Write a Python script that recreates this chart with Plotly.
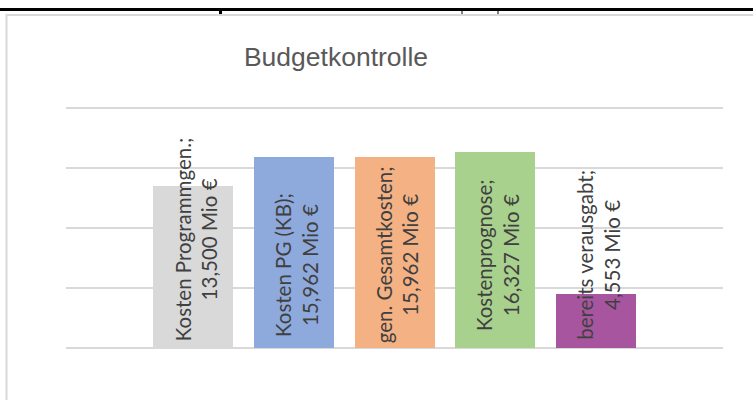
import plotly.graph_objects as go

# ---- data ----
categories = ["Kosten Programmgen.", "Kosten PG (KB)", "gen. Gesamtkosten", "Kostenprognose", "bereits verausgabt"]
values = [13.500, 15.962, 15.962, 16.327, 4.553]
value_labels = ["13,500 Mio €", "15,962 Mio €", "15,962 Mio €", "16,327 Mio €", "4,553 Mio €"]
label_names = ["Kosten Programmgen.;", "Kosten PG (KB);", "gen. Gesamtkosten;", "Kostenprognose;", "bereits verausgabt;"]
colors = ["#D9D9D9", "#8EA9DB", "#F4B183", "#A9D18E", "#A855A0"]
# label centre offset above the base (pixels)
label_offsets = [109, 83, 93.5, 93.5, 93.5]

W, H = 753, 400
L, R, T, B = 66, 30, 102, 46
PW, PH = W - L - R, H - T - B

def px_x(px):
    return (px - L) / PW

def px_y(py):
    return (H - B - py) / PH

xs = list(range(len(categories)))

fig = go.Figure()
fig.add_trace(go.Bar(
    x=xs, y=values, width=0.794,
    marker=dict(color=colors, line=dict(width=0)),
    hoverinfo="skip", showlegend=False,
))

for i in xs:
    fig.add_annotation(
        x=i, y=0, xref="x", yref="y",
        text=label_names[i] + "<br>" + value_labels[i],
        textangle=-90, showarrow=False,
        xanchor="center", yanchor="middle",
        yshift=label_offsets[i], xshift=3,
        align="center",
        font=dict(family="Lato", size=20.5, color="#404040"),
    )

shapes = [
    # black rule at the top
    dict(type="rect", xref="paper", yref="paper", x0=px_x(-5), x1=px_x(W + 5),
         y0=px_y(11), y1=px_y(8), fillcolor="black", line=dict(width=0), layer="above"),
    # small tick marks below the rule
    dict(type="rect", xref="paper", yref="paper", x0=px_x(219), x1=px_x(222),
         y0=px_y(14), y1=px_y(10), fillcolor="black", line=dict(width=0), layer="above"),
    dict(type="line", xref="paper", yref="paper", x0=px_x(462), x1=px_x(462),
         y0=px_y(14), y1=px_y(10), line=dict(color="black", width=1), layer="above"),
    dict(type="line", xref="paper", yref="paper", x0=px_x(498), x1=px_x(498),
         y0=px_y(14), y1=px_y(10), line=dict(color="black", width=1), layer="above"),
    # chart area border
    dict(type="rect", xref="paper", yref="paper", x0=px_x(6.5), x1=px_x(W + 20),
         y0=px_y(H + 20), y1=px_y(15), line=dict(color="#D9D9D9", width=2),
         fillcolor="rgba(0,0,0,0)", layer="below"),
]

fig.update_layout(
    width=W, height=H,
    margin=dict(l=L, r=R, t=T, b=B, pad=0),
    paper_bgcolor="white", plot_bgcolor="white",
    title=dict(text="Budgetkontrolle", x=336 / W, xanchor="center",
               y=1 - 57 / H, yanchor="middle",
               font=dict(family="Liberation Sans", size=26.5, color="#595959")),
    xaxis=dict(range=[-1.26, 5.26], showgrid=False, zeroline=False,
               showticklabels=False, ticks="", showline=False, fixedrange=True),
    yaxis=dict(range=[(348.3 - (H - B)) / 12, (348.3 - T) / 12],
               tickvals=[0, 5, 10, 15, 20], showticklabels=False, ticks="",
               showgrid=True, gridcolor="#D9D9D9", gridwidth=2,
               zeroline=True, zerolinecolor="#D9D9D9", zerolinewidth=2,
               showline=False, fixedrange=True),
    shapes=shapes,
    bargap=0,
)

fig.write_html("out.html", config={"displayModeBar": False},
               post_script="document.body.style.margin='0';document.body.style.overflow='hidden';")
